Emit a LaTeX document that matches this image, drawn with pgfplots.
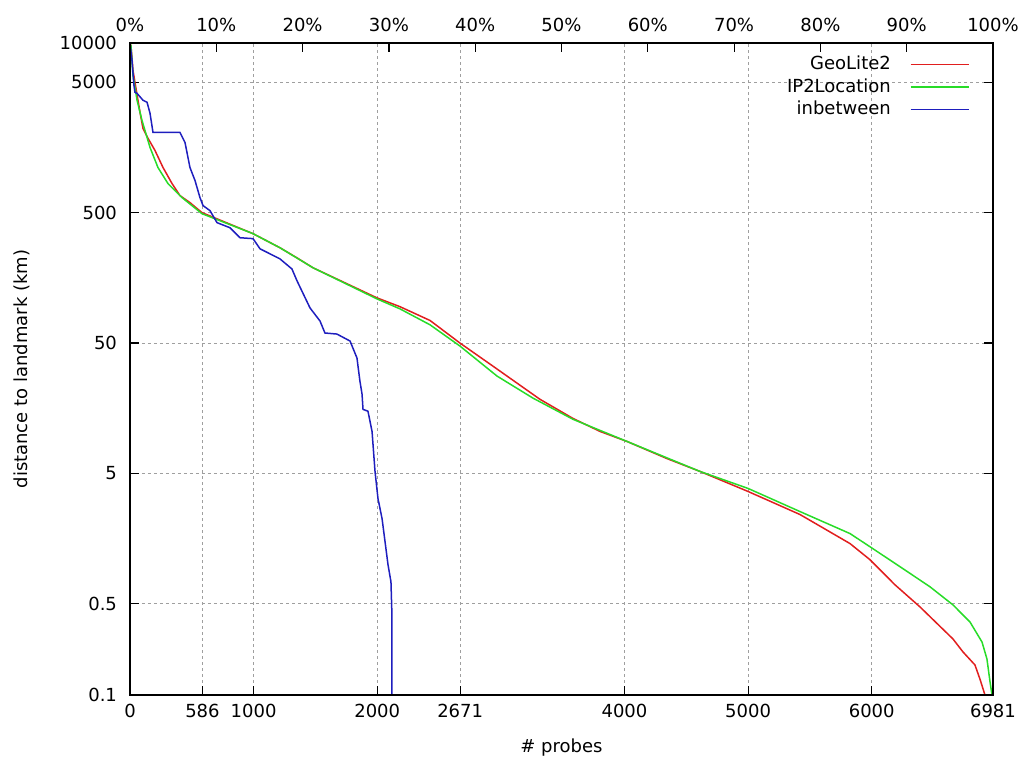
\documentclass[border=0pt]{standalone}
\usepackage{pgfplots}
\pgfplotsset{compat=1.18}
\usepackage{fontspec}
\setmainfont{DejaVu Sans}
\definecolor{gred}{RGB}{225,30,30}
\definecolor{ggreen}{RGB}{40,220,40}
\definecolor{gblue}{RGB}{30,30,190}
\begin{document}
\begin{tikzpicture}[font=\fontsize{9}{10.8}\selectfont]
\useasboundingbox (-65pt,-34pt) rectangle (447pt,347.5pt);
\begin{axis}[
  at={(0,0)}, anchor=south west,
  width=431.5pt, height=326pt, scale only axis,
  xmin=0, xmax=6981,
  ymode=log, ymin=0.1, ymax=10000,
  xtick={0,586,1000,2000,2671,4000,5000,6000,6981},
  xticklabels={0,586,1000,2000,2671,4000,5000,6000,6981},
  ytick={0.1,0.5,5,50,500,5000,10000},
  yticklabels={0.1,0.5,5,50,500,5000,10000},
  minor tick num=0,
  xtick pos=left, xticklabel pos=left,
  ytick pos=both, yticklabel pos=left,
  tick align=inside,
  major tick length=4.5pt,
  tick style={black, line width=0.6pt},
  axis line style={black, line width=0.6pt},
  grid=major,
  major grid style={gray!75, line width=0.5pt, dash pattern=on 1.5pt off 1.5pt},
  xlabel={\# probes},
  ylabel={distance to landmark (km)},
  xlabel style={at={(axis description cs:0.5,-0.0813)}, anchor=center},
  ylabel style={at={(axis description cs:-0.125,0.5)}, anchor=center},
  xticklabel style={yshift=-1pt},
  yticklabel style={xshift=-3pt},
  legend style={draw=none, fill=none, at={(rel axis cs:0.980,0.993)}, anchor=north east,
    legend cell align=right, row sep=-1pt},
  legend plot pos=right,
  legend image code/.code={\draw[#1] (0pt,0pt) -- (0pt,0pt); \draw[#1] (7.5pt,0pt) -- (36.5pt,0pt);},
]
\addplot[gred, line width=0.75pt] coordinates {
(0,10000)(8,9500)(24,6180)(40,5000)(81,2940)(105,2213)(146,1855)(202,1500)(267,1110)
(340,836)(404,676)(485,597)(582,500)(995,345)(1213,269)(1351,225)(1480,189)(1998,111)
(2184,95)(2427,74.5)(2669,50)(2912,34.5)(3317,18.5)(3584,13.2)(3802,10.5)(4020,8.8)
(4344,6.5)(4611,5.18)(4999,3.64)(5420,2.42)(5824,1.45)(5986,1.09)(6188,0.70)(6390,0.474)
(6657,0.269)(6738,0.214)(6835,0.170)(6876,0.132)(6916,0.1)
};
\addlegendentry{GeoLite2}
\addplot[ggreen, line width=0.75pt] coordinates {
(0,10000)(8,9500)(24,5660)(57,3640)(97,2550)(162,1580)(226,1110)(307,836)(421,652)
(582,491)(995,345)(1213,269)(1480,189)(1998,109)(2184,91.4)(2427,69)(2669,47.4)(2969,27.9)
(3260,18.9)(3584,13.0)(4020,8.8)(4611,5.18)(4999,3.84)(5420,2.55)(5824,1.73)(5986,1.37)
(6253,0.93)(6471,0.676)(6657,0.491)(6795,0.363)(6892,0.255)(6932,0.189)(6957,0.126)(6973,0.1)
};
\addlegendentry{IP2Location}
\addplot[gblue, line width=0.75pt] coordinates {
(0,10000)(16,7380)(32,4740)(40,4190)(57,4110)(105,3640)(138,3510)(162,2890)(186,2062)
(404,2062)(445,1725)(485,1110)(526,881)(566,652)(591,566)(647,518)(704,419)(809,383)
(890,321)(995,316)(1052,264)(1213,221)(1310,185)(1351,150)(1456,93)(1537,73.8)(1577,59.7)
(1674,58.6)(1780,51.8)(1836,38.4)(1860,25.5)(1877,20.3)(1885,15.5)(1925,15.0)(1958,10.5)
(1982,5.18)(2006,3.21)(2039,2.25)(2087,1.0)(2111,0.738)(2119,0.412)(2119,0.203)(2119,0.1)
};
\addlegendentry{inbetween}
\end{axis}
\begin{axis}[
  at={(0,0)}, anchor=south west,
  width=431.5pt, height=326pt, scale only axis,
  xmin=0, xmax=100, ymin=0, ymax=1,
  xtick={0,10,...,100},
  xticklabels={0\%,10\%,20\%,30\%,40\%,50\%,60\%,70\%,80\%,90\%,100\%},
  ytick=\empty,
  xtick pos=right, xticklabel pos=right,
  tick align=inside,
  major tick length=4.5pt,
  tick style={black, line width=0.6pt},
  axis line style={black, line width=0.6pt},
  xticklabel style={yshift=2pt},
]
\end{axis}
\end{tikzpicture}
\end{document}
